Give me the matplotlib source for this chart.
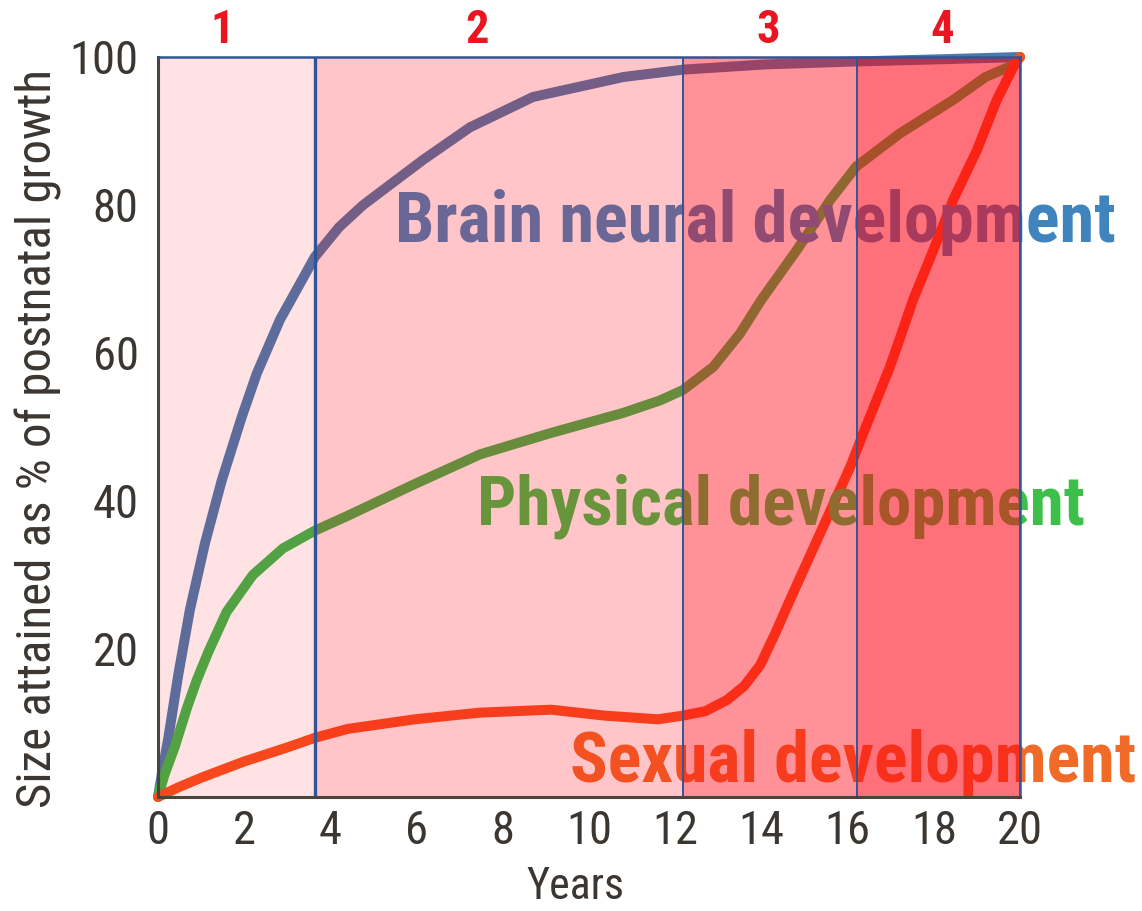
import os
import matplotlib
matplotlib.use("Agg")
import matplotlib.pyplot as plt
from matplotlib import font_manager as fm
from matplotlib.patches import Rectangle
from matplotlib.transforms import blended_transform_factory

# ---------------- data ----------------
brain_x = [0, 0.1, 0.24, 0.47, 0.74, 1.09, 1.48, 1.94, 2.29, 2.83, 3.64, 4.2, 4.76,
           6.15, 7.24, 8.7, 10.8, 12.2, 14.1, 16.2, 18.2, 20]
brain_y = [0, 3.5, 8.0, 16.5, 25.3, 34.3, 42.8, 51.3, 57.2, 64.5, 73, 77, 80,
           86.1, 90.5, 94.6, 97.3, 98.3, 99.0, 99.4, 99.7, 100]

physical_x = [0, 0.15, 0.39, 0.67, 0.9, 1.16, 1.59, 2.2, 2.9, 3.64, 4.4, 5.96, 7.47,
              9.12, 10.79, 11.65, 12.18, 12.88, 13.5, 14.0, 14.82, 15.6, 16.2, 17.22,
              18.45, 19.2, 19.84, 20]
physical_y = [0, 3, 6.8, 12, 15.8, 19.5, 25, 30, 33.6, 36, 38, 42.3, 46.3,
              49.2, 51.9, 53.6, 55, 58.1, 62.6, 67.2, 73.9, 80.7, 85.2, 89.7,
              94.2, 97.3, 98.9, 100]

sexual_x = [0, 0.47, 1.0, 2.0, 3.0, 3.64, 4.4, 5.96, 7.47, 9.12, 10.36, 11.6, 12.18,
            12.7, 13.2, 13.6, 13.97, 14.32, 14.66, 15.01, 15.36, 15.71, 16.06, 16.36,
            16.67, 16.98, 17.25, 17.52, 17.99, 18.45, 19.0, 19.46, 19.85, 20]
sexual_y = [0, 1.3, 2.6, 4.8, 6.7, 8.0, 9.2, 10.5, 11.4, 11.8, 11.0, 10.5, 11.0,
            11.6, 13.1, 15.0, 17.8, 22.1, 26.6, 31.1, 35.6, 40.1, 44.6, 49.1,
            53.6, 58.1, 62.6, 67.2, 73.9, 80.7, 87.4, 94.2, 98.7, 100]

stage_bounds = [0, 3.64, 12.18, 16.22, 20]
stage_labels = ["1", "2", "3", "4"]
stage_label_x = [1.5, 7.4, 14.15, 18.2]
stage_alpha = [0.11, 0.227, 0.43, 0.557]

curve_labels = ["Brain neural development", "Physical development", "Sexual development"]
label_pos = [(5.5, 75.0), (7.4, 36.8), (9.56, 2.0)]
label_width_px = [720, 608, 565]

x_ticks = list(range(0, 21, 2))
y_ticks = [20, 40, 60, 80, 100]


# ---------------- fonts ----------------
def narrow_font(bold):
    prefs = ["noto sans condensed", "notosans-condensed", "notosanscondensed",
             "roboto condensed", "robotocondensed", "liberation sans narrow",
             "open sans condensed", "opensans-condensed",
             "dejavu sans condensed", "dejavusanscondensed"]
    best, best_score = None, None
    for f in fm.fontManager.ttflist:
        key = (f.name + " " + os.path.basename(f.fname)).lower()
        stretch = str(f.stretch).lower()
        is_narrow = ("narrow" in key or "condensed" in key
                     or stretch in ("condensed", "semi-condensed"))
        if not is_narrow or "extra" in key or "ultra" in key or "semi" in key:
            continue
        if f.style != "normal" or "italic" in key or "oblique" in key:
            continue
        w = f.weight if isinstance(f.weight, (int, float)) else fm.weight_dict.get(f.weight, 400)
        if bold and not (650 <= w <= 750):
            continue
        if not bold and not (350 <= w <= 450):
            continue
        score = len(prefs)
        for i, p in enumerate(prefs):
            if p in key:
                score = i
                break
        if best_score is None or score < best_score:
            best, best_score = f, score
    if best is None:
        return fm.FontProperties(family="DejaVu Sans", weight="bold" if bold else "normal")
    return fm.FontProperties(fname=best.fname)


FP_REG = narrow_font(False)
FP_BOLD = narrow_font(True)

dark = "#3b3631"
edge_blue = "#2f5597"
line_colors = ["#4a7aac", "#3db54a", "#f5501f"]
text_colors = ["#3f84bd", "#3cc04a", "#f06a28"]

fig = plt.figure(figsize=(11.42, 9.11), dpi=100)
renderer = fig.canvas.get_renderer()
ax = fig.add_axes([158 / 1142, 1 - 797 / 911, 862 / 1142, 740 / 911])
ax.set_xlim(0, 20)
ax.set_ylim(0, 100)


def fit_size(fp, text, target_px, base=40):
    t = fig.text(0, 0, text, fontproperties=fp, fontsize=base)
    bb = t.get_window_extent(renderer)
    t.remove()
    return base * target_px / bb.width


# curves
for xs, ys, c in zip([brain_x, physical_x, sexual_x],
                     [brain_y, physical_y, sexual_y], line_colors):
    ax.plot(xs, ys, color=c, lw=7.2, solid_capstyle="round",
            solid_joinstyle="round", zorder=2, clip_on=False)

# curve labels (under the tinted overlays)
for (lx, ly), txt, c, wpx in zip(label_pos, curve_labels, text_colors, label_width_px):
    size = fit_size(FP_BOLD, txt, wpx)
    ax.text(lx, ly, txt, color=c, fontproperties=FP_BOLD, fontsize=size,
            ha="left", va="baseline", zorder=2.5, clip_on=False)

# stage overlays
for i in range(4):
    x0, x1 = stage_bounds[i], stage_bounds[i + 1]
    ax.add_patch(Rectangle((x0, 0), x1 - x0, 100, facecolor="#ff0010",
                           alpha=stage_alpha[i], edgecolor="none", zorder=3))
    ax.add_patch(Rectangle((x0, 0), x1 - x0, 100, facecolor="none",
                           edgecolor=edge_blue, lw=1.2, zorder=4))
ax.axvline(stage_bounds[1], color=edge_blue, lw=2.4, zorder=4.5)

# stage numbers
tick_size = fit_size(FP_REG, "100", 69)
trans = blended_transform_factory(ax.transData, ax.transAxes)
for sx, s in zip(stage_label_x, stage_labels):
    ax.text(sx, 1.037, s, transform=trans, color="#ea1520",
            fontproperties=FP_BOLD, fontsize=tick_size,
            ha="center", va="center")

# axes style
for side in ["top", "right"]:
    ax.spines[side].set_color(edge_blue)
    ax.spines[side].set_linewidth(1.8)
for side in ["left", "bottom"]:
    ax.spines[side].set_color("#4a443c")
    ax.spines[side].set_linewidth(2.2)
for sp in ax.spines.values():
    sp.set_zorder(5)

ax.set_xticks(x_ticks)
ax.set_yticks(y_ticks)
ax.tick_params(axis="x", length=0, pad=9)
ax.tick_params(axis="y", length=0, pad=14)
for lab in ax.get_xticklabels() + ax.get_yticklabels():
    lab.set_fontproperties(FP_REG)
    lab.set_fontsize(tick_size)
    lab.set_color(dark)

years_size = fit_size(FP_REG, "Years", 98)
fig.text(575 / 1142, 1 - 887 / 911, "Years", fontproperties=FP_REG,
         fontsize=years_size, color=dark, ha="center", va="center")
ylab = "Size attained as % of postnatal growth"
ylab_size = fit_size(FP_REG, ylab, 740)
fig.text(38 / 1142, 1 - 438 / 911, ylab, fontproperties=FP_REG,
         fontsize=ylab_size, color=dark, rotation=90, ha="center", va="center")

fig.savefig("out.png", dpi=100)
